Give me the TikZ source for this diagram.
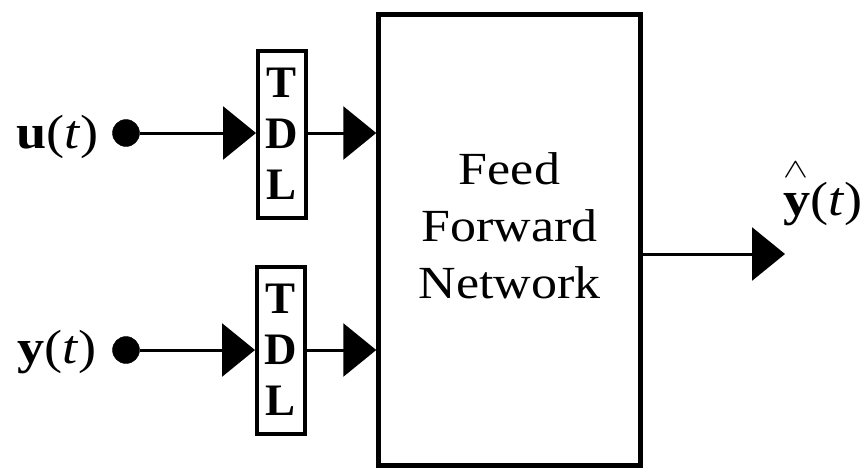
\documentclass[tikz,border=0pt]{standalone}
\usepackage{graphicx}
\usepackage{fontspec}
\setmainfont{Liberation Serif}[FakeStretch=1.13]
\newfontfamily\tdlfont{Liberation Serif}
\usetikzlibrary{shapes, arrows, calc, arrows.meta, fit, positioning}

\begin{document}
\begin{tikzpicture}[x=1pt,y=-1pt,
  main/.style = {draw, line width=4.5pt, minimum width=262pt, minimum height=451pt, inner sep=0pt},
  tdl/.style = {draw, line width=4pt, minimum width=48pt, minimum height=167pt, inner sep=0pt, align=center, font=\tdlfont\bfseries\fontsize{45}{51}\selectfont},
  inp/.style = {draw, circle, fill, minimum size=27pt, inner sep=0pt},
  lab/.style = {font=\fontsize{48}{48}\selectfont, inner sep=0pt},
  arr/.style = {line width=3pt, -{Triangle[length=33pt,width=53pt]}}]
\useasboundingbox (0,0) rectangle (865,469);

\node[main] (ffn) at (509.5,240) {};
\node[font=\fontsize{46}{57}\selectfont, align=center] (ffnlab) at (509.5,226) {Feed\\Forward\\Network};
\node[tdl] (tdl1) at (282,134) {T\\D\\L};
\node[tdl] (tdl2) at (281,350) {T\\D\\L};
\node[inp] (1) at (126,133) {};
\node[inp] (2) at (126,350) {};
\node[lab, anchor=base east] (ulab) at (99,148) {\textbf{u}(\textit{t})};
\node[lab, anchor=base east] (ylab) at (97,363) {\textbf{y}(\textit{t})};
\node[lab, anchor=base west] (yhat) at (783,215) {\makebox[0pt][l]{\raisebox{38pt}{\scalebox{1.5}[1.1]{\fontsize{24}{24}\selectfont$\wedge$}}}\textbf{y}(\textit{t})};
\coordinate (o) at (785,254);

\draw[arr] (1) -- (1 -| tdl1.west);
\draw[arr] (2) -- (2 -| tdl2.west);
\draw[arr] (1 -| tdl1.east) -- (1 -| ffn.west);
\draw[arr] (2 -| tdl2.east) -- (2 -| ffn.west);
\draw[arr] (o -| ffn.east) -- (o);
\end{tikzpicture}
\end{document}
